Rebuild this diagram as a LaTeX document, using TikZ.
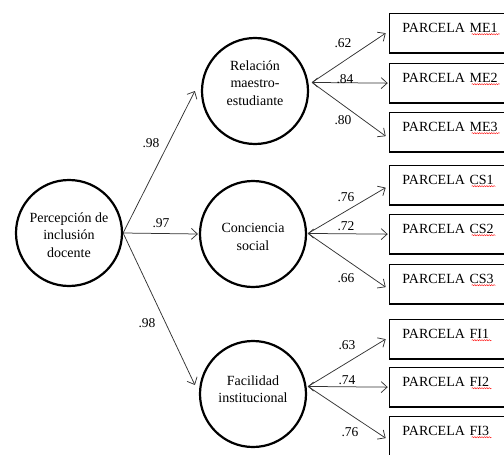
\documentclass[tikz,border=0pt]{standalone}
\usepackage{fontspec}
\setmainfont{Liberation Serif}
\usetikzlibrary{arrows.meta,decorations.pathmorphing}
\begin{document}
\begin{tikzpicture}[x=1pt,y=-1pt,
 every node/.style={font=\fontsize{14}{17.5}\selectfont},
 latent/.style={circle, draw, line width=2.2pt, minimum size=106pt, inner sep=0pt},
 ltext/.style={align=center, inner sep=0pt},
 indicator/.style={draw, line width=1.4pt, anchor=north west, minimum width=150pt, text width=124pt, align=left, inner xsep=13pt, inner ysep=0pt, text height=19pt, text depth=20.5pt},
 conn/.style={draw=black!80, line width=0.75pt, -{Straight Barb[length=6pt,width=11pt]}},
 bothconn/.style={draw=black!80, line width=0.75pt, {Straight Barb[length=5pt,width=9pt]}-{Straight Barb[length=6pt,width=11pt]}},
 coef/.style={inner sep=0pt, font=\fontsize{13.5}{16}\selectfont},
 wavy/.style={draw=red, line width=0.4pt, decorate, decoration={snake, amplitude=0.6pt, segment length=2.4pt}}
]
\useasboundingbox (0,0) rectangle (504,455);
\clip (0,0) rectangle (504,455);

% latent variables
\node[latent] (P) at (69,233) {};
\node[ltext] (Pt) at (69,235) {Percepción de\\inclusión\\docente};
\node[latent] (R) at (255,91) {};
\node[ltext] (Rt) at (255,83) {Relación\\maestro-\\estudiante};
\node[latent] (C) at (253,234) {};
\node[ltext] (Ct) at (253,237) {Conciencia\\social};
\node[latent] (F) at (253,394) {};
\node[ltext] (Ft) at (253,389) {Facilidad\\institucional};

% indicators
\node[indicator] (me1) at (388.7,12.7) {PARCELA ME1};
\node[indicator] (me2) at (388.7,62.7) {PARCELA ME2};
\node[indicator] (me3) at (388.7,111.7) {PARCELA ME3};
\node[indicator] (cs1) at (388.7,164.7) {PARCELA CS1};
\node[indicator] (cs2) at (388.7,213.7) {PARCELA CS2};
\node[indicator] (cs3) at (388.7,263.7) {PARCELA CS3};
\node[indicator] (fi1) at (388.7,318.7) {PARCELA FI1};
\node[indicator] (fi2) at (388.7,366.7) {PARCELA FI2};
\node[indicator] (fi3) at (388.7,415.7) {PARCELA FI3};

% spell-check underlines
\draw[wavy] ([xshift=83pt,yshift=-21.5pt]me1.north west) -- ++(28,0);
\draw[wavy] ([xshift=83pt,yshift=-21.5pt]me2.north west) -- ++(28,0);
\draw[wavy] ([xshift=83pt,yshift=-21.5pt]me3.north west) -- ++(28,0);
\draw[wavy] ([xshift=83pt,yshift=-21.5pt]cs1.north west) -- ++(24,0);
\draw[wavy] ([xshift=83pt,yshift=-21.5pt]cs2.north west) -- ++(24,0);
\draw[wavy] ([xshift=83pt,yshift=-21.5pt]cs3.north west) -- ++(24,0);
\draw[wavy] ([xshift=83pt,yshift=-21.5pt]fi1.north west) -- ++(20,0);
\draw[wavy] ([xshift=83pt,yshift=-21.5pt]fi2.north west) -- ++(20,0);
\draw[wavy] ([xshift=83pt,yshift=-21.5pt]fi3.north west) -- ++(20,0);

% convergence points
\coordinate (rR) at (312,82.45);
\coordinate (rC) at (308,233.45);
\coordinate (rF) at (308,386.45);

% structural paths
\draw[conn] (P.east) -- ([xshift=-6pt]R.west);
\draw[conn] (P.east) -- ([xshift=-1pt]C.west);
\draw[conn] (P.east) -- ([xshift=-4pt,yshift=9pt]F.west);

% loadings
\draw[conn] (rR) -- ([xshift=-3pt]me1.west);
\draw[bothconn] (rR) -- ([xshift=-1pt]me2.west);
\draw[conn] (rR) -- ([xshift=-3pt,yshift=-4pt]me3.west);
\draw[conn] (rC) -- ([xshift=-3pt,yshift=-2.5pt]cs1.west);
\draw[bothconn] (rC) -- ([xshift=-1pt]cs2.west);
\draw[conn] (rC) -- ([xshift=-3pt,yshift=-3pt]cs3.west);
\draw[conn] (rF) -- ([xshift=-3pt]fi1.west);
\draw[bothconn] (rF) -- ([xshift=-1pt]fi2.west);
\draw[conn] (rF) -- ([xshift=-3pt,yshift=-2pt]fi3.west);

% coefficients
\node[coef] (k1) at (151,143) {.98};
\node[coef] (k2) at (161,223) {.97};
\node[coef] (k3) at (147,323) {.98};
\node[coef] (k4) at (343,43) {.62};
\node[coef] (k5) at (345,79) {.84};
\node[coef] (k6) at (343,120) {.80};
\node[coef] (k7) at (346,197) {.76};
\node[coef] (k8) at (346,226) {.72};
\node[coef] (k9) at (346,278) {.66};
\node[coef] (k10) at (347,345) {.63};
\node[coef] (k11) at (347,380) {.74};
\node[coef] (k12) at (350,432) {.76};
\end{tikzpicture}
\end{document}
